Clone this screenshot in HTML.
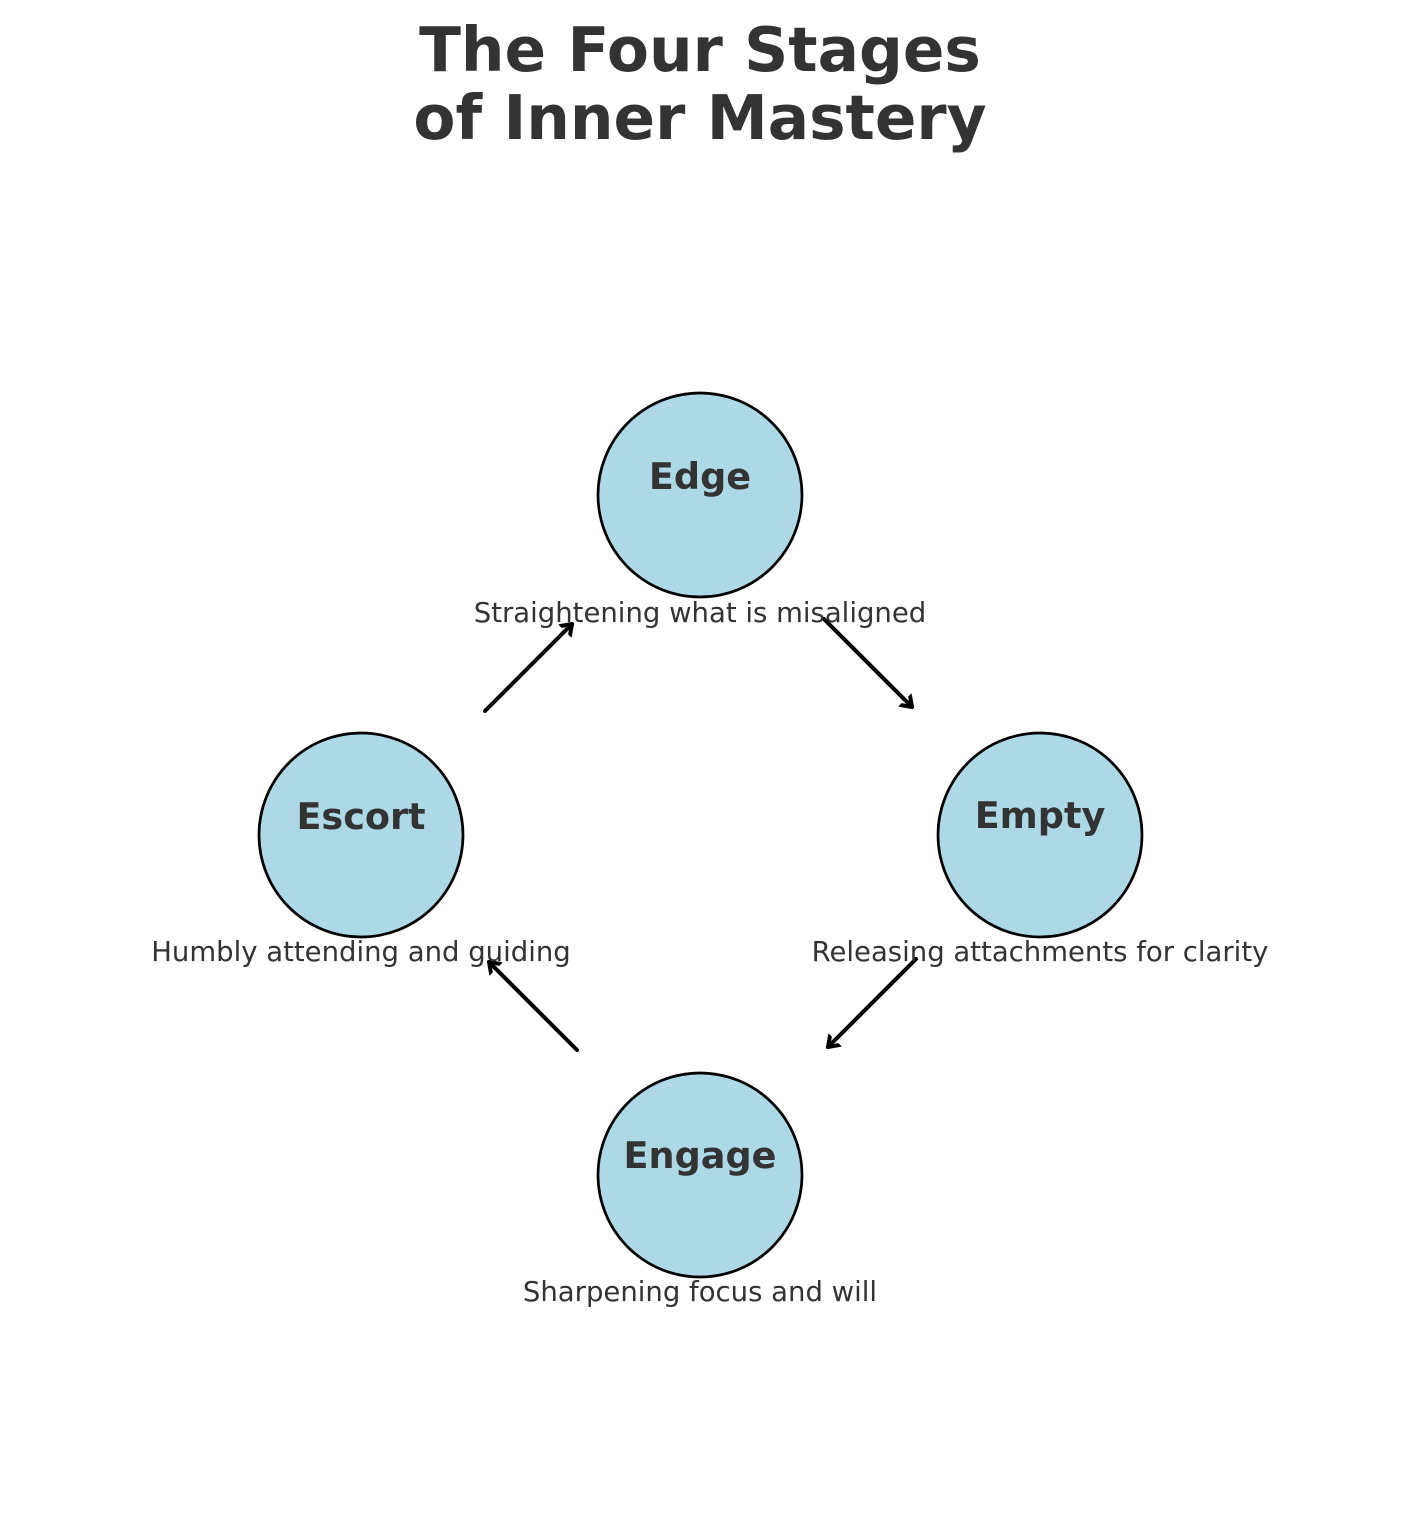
<!DOCTYPE html>
<html><head><style>html,body{margin:0;padding:0;background:#fff}</style></head>
<body>
<svg width="1401" height="1536" xmlns="http://www.w3.org/2000/svg" style="display:block">
<defs>
<marker id="a" markerWidth="20" markerHeight="20" refX="10" refY="10" orient="auto" markerUnits="userSpaceOnUse">
<path d="M0,3 L10,10 L0,17" fill="none" stroke="#000" stroke-width="4" stroke-linecap="round" stroke-linejoin="round"/>
</marker>
</defs>
<g font-family="'DejaVu Sans','Liberation Sans',sans-serif" fill="#333" text-anchor="middle">
<text x="700" y="71" font-size="61.3" font-weight="bold">The Four Stages</text>
<text x="700" y="139" font-size="61.3" font-weight="bold">of Inner Mastery</text>
</g>
<g fill="#add8e6" stroke="#000" stroke-width="2.7">
<circle cx="700" cy="495" r="102"/>
<circle cx="361" cy="835" r="102"/>
<circle cx="1040" cy="835" r="102"/>
<circle cx="700" cy="1175" r="102"/>
</g>
<g stroke="#000" stroke-width="4" stroke-linecap="round" marker-end="url(#a)">
<line x1="485" y1="711" x2="572" y2="624"/>
<line x1="824" y1="619" x2="912" y2="707"/>
<line x1="916" y1="959" x2="828" y2="1047"/>
<line x1="577" y1="1050" x2="489" y2="962"/>
</g>
<g font-family="'DejaVu Sans','Liberation Sans',sans-serif" fill="#333" text-anchor="middle">
<g font-size="36.6" font-weight="bold">
<text x="700" y="489">Edge</text>
<text x="361" y="829">Escort</text>
<text x="1040" y="828">Empty</text>
<text x="700" y="1168">Engage</text>
</g>
<g font-size="27.5">
<text x="700" y="622">Straightening what is misaligned</text>
<text x="361" y="961">Humbly attending and guiding</text>
<text x="1040" y="961">Releasing attachments for clarity</text>
<text x="700" y="1301">Sharpening focus and will</text>
</g>
</g>
</svg>
</body></html>
